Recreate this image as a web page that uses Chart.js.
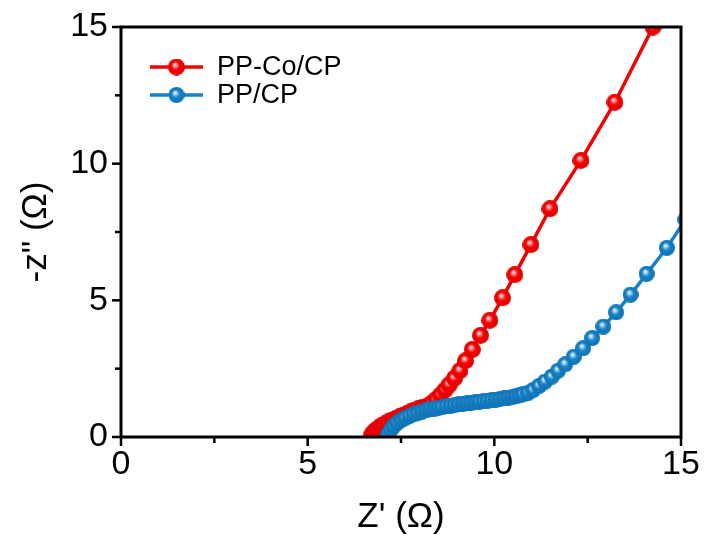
<!DOCTYPE html>
<html>
<head>
<meta charset="utf-8">
<script src="https://cdn.jsdelivr.net/npm/chart.js@4"></script>
<style>
  html, body { margin: 0; padding: 0; background: #fff; }
  #wrap { width: 707px; height: 542px; }
</style>
</head>
<body>
<div id="wrap"><canvas id="nyquist"></canvas></div>
<script>
// Nyquist data, Z' vs -Z'' in ohm
const coZre = [6.70, 6.75, 6.82, 6.90, 6.98, 7.07, 7.16, 7.26, 7.36, 7.46, 7.56, 7.66, 7.76, 7.86, 7.96,
  8.07, 8.19, 8.32, 8.44, 8.56, 8.68, 8.79, 8.93, 9.08, 9.23, 9.41, 9.63, 9.88, 10.22, 10.55, 10.98,
  11.49, 12.32, 13.23, 14.25];
const coZim = [0.05, 0.15, 0.25, 0.33, 0.41, 0.48, 0.55, 0.62, 0.68, 0.74, 0.80, 0.86, 0.92, 0.98, 1.03,
  1.08, 1.12, 1.24, 1.38, 1.54, 1.72, 1.91, 2.15, 2.43, 2.79, 3.20, 3.72, 4.27, 5.09, 5.94, 7.04,
  8.35, 10.12, 12.25, 15.0];

const ppZre = [7.15, 7.22, 7.30, 7.40, 7.51, 7.62, 7.73, 7.84, 7.95, 8.06, 8.17, 8.28, 8.39, 8.50, 8.61,
  8.72, 8.83, 8.94, 9.05, 9.16, 9.27, 9.38, 9.49, 9.60, 9.71, 9.82, 9.93, 10.04, 10.15, 10.26, 10.37,
  10.48, 10.58, 10.68, 10.77, 10.91, 11.04, 11.20, 11.36, 11.54, 11.71, 11.90, 12.13, 12.38, 12.62,
  12.92, 13.26, 13.65, 14.08, 14.62, 15.12];
const ppZim = [0.08, 0.25, 0.40, 0.52, 0.62, 0.70, 0.77, 0.83, 0.88, 0.93, 0.97, 1.01, 1.04, 1.07, 1.10,
  1.13, 1.15, 1.17, 1.19, 1.21, 1.23, 1.25, 1.27, 1.29, 1.31, 1.33, 1.35, 1.37, 1.39, 1.41, 1.44,
  1.46, 1.49, 1.52, 1.56, 1.62, 1.72, 1.87, 2.03, 2.21, 2.43, 2.66, 2.94, 3.25, 3.62,
  4.04, 4.56, 5.21, 5.97, 6.92, 7.95];

const seriesNames = ['PP-Co/CP', 'PP/CP'];
const axisTicks = [0, 2.5, 5, 7.5, 10, 12.5, 15];

const RED = '#f40000';
const BLUE = '#1681c6';

// shaded ball used as the marker
function makeBall(color, light, dark, r) {
    const c = document.createElement('canvas');
    c.width = c.height = Math.ceil(2 * r);
    const g = c.getContext('2d');
    const grad = g.createRadialGradient(r * 0.8, r * 0.7, 0, r, r, r);
    grad.addColorStop(0, '#ffffff');
    grad.addColorStop(0.2, light);
    grad.addColorStop(0.5, color);
    grad.addColorStop(1, dark);
    g.fillStyle = grad;
    g.beginPath();
    g.arc(r, r, r, 0, Math.PI * 2);
    g.fill();
    return c;
}

const redBall = makeBall(RED, '#ff9090', '#e00000', 8.5);
const blueBall = makeBall(BLUE, '#a0d2f2', '#0f72b2', 8);

function toPoints(xs, ys) {
    return xs.map((x, i) => ({ x: x, y: ys[i] }));
}

// frame, tick marks and in-plot legend
const decorations = {
    id: 'decorations',
    afterDraw(chart) {
        const { ctx, chartArea: a, scales } = chart;
        ctx.save();
        ctx.strokeStyle = '#000';
        ctx.lineWidth = 3;
        ctx.strokeRect(a.left, a.top, a.right - a.left, a.bottom - a.top);

        ctx.lineWidth = 2.5;
        axisTicks.forEach(v => {
            const len = v % 5 === 0 ? 9 : 6;
            const px = scales.x.getPixelForValue(v);
            ctx.beginPath();
            ctx.moveTo(px, a.bottom);
            ctx.lineTo(px, a.bottom + len);
            ctx.stroke();
            const py = scales.y.getPixelForValue(v);
            ctx.beginPath();
            ctx.moveTo(a.left, py);
            ctx.lineTo(a.left - len, py);
            ctx.stroke();
        });

        // legend
        const rows = [[RED, redBall, 67], [BLUE, blueBall, 95]];
        ctx.font = '27px Arial, "Liberation Sans", sans-serif';
        ctx.textBaseline = 'middle';
        ctx.fillStyle = '#000';
        rows.forEach(([col, img, y], i) => {
            ctx.strokeStyle = col;
            ctx.lineWidth = 3.5;
            ctx.beginPath();
            ctx.moveTo(150, y);
            ctx.lineTo(203, y);
            ctx.stroke();
            ctx.drawImage(img, 176.5 - img.width / 2, y - img.height / 2);
            ctx.fillText(seriesNames[i], 217, y + 1);
        });
        ctx.restore();
    }
};

const tickFont = { family: 'Arial, "Liberation Sans", sans-serif', size: 34 };
const titleFont = { family: 'Arial, "Liberation Sans", sans-serif', size: 35 };

new Chart(document.getElementById('nyquist'), {
    type: 'line',
    data: {
        datasets: [
            {
                label: seriesNames[0],
                data: toPoints(coZre, coZim),
                borderColor: RED,
                borderWidth: 3.5,
                pointStyle: redBall,
                pointRadius: 8.5,
                tension: 0,
                clip: 0,
                order: 1
            },
            {
                label: seriesNames[1],
                data: toPoints(ppZre, ppZim),
                borderColor: BLUE,
                borderWidth: 3.5,
                pointStyle: blueBall,
                pointRadius: 8,
                tension: 0,
                clip: 0,
                order: 0
            }
        ]
    },
    options: {
        responsive: true,
        maintainAspectRatio: false,
        animation: false,
        events: [],
        layout: { padding: { top: 27, right: 26, left: 0, bottom: 0 } },
        plugins: {
            legend: { display: false },
            tooltip: { enabled: false }
        },
        scales: {
            x: {
                type: 'linear',
                min: 0,
                max: 15,
                afterFit: s => { s.height = 105; s.paddingLeft = 0; s.paddingRight = 0; },
                afterBuildTicks: s => { s.ticks = axisTicks.map(v => ({ value: v })); },
                grid: { display: false, drawTicks: false },
                border: { display: false },
                ticks: {
                    padding: 7,
                    color: '#000',
                    font: tickFont,
                    maxRotation: 0,
                    callback: v => (v % 5 === 0 ? String(v) : '')
                },
                title: {
                    display: true,
                    text: "Z' (Ω)",
                    color: '#000',
                    font: titleFont,
                    padding: { top: 0, bottom: 4 }
                }
            },
            y: {
                type: 'linear',
                min: 0,
                max: 15,
                afterFit: s => { s.width = 121; s.paddingTop = 0; s.paddingBottom = 0; },
                afterBuildTicks: s => { s.ticks = axisTicks.map(v => ({ value: v })); },
                grid: { display: false, drawTicks: false },
                border: { display: false },
                ticks: {
                    padding: 13,
                    color: '#000',
                    font: tickFont,
                    callback: v => (v % 5 === 0 ? String(v) : '')
                },
                title: {
                    display: true,
                    text: '-z" (Ω)',
                    color: '#000',
                    font: titleFont,
                    padding: { top: 15, bottom: 0 }
                }
            }
        }
    },
    plugins: [decorations]
});
</script>
</body>
</html>
